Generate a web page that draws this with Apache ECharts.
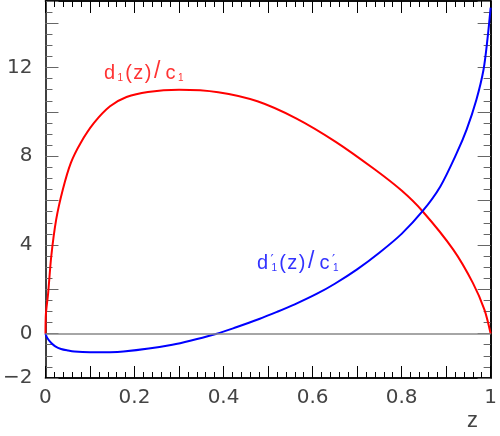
<!DOCTYPE html>
<html>
<head>
    <meta charset="utf-8">
    <title>d1(z)/c1</title>
    <script src="https://cdn.jsdelivr.net/npm/echarts@6/dist/echarts.min.js"></script>
</head>
<body style="margin:0">
    <div id="main" style="width: 500px;height:436px;"></div>
    <script type="text/javascript">
        // values
        let zRed = [0, 0.001, 0.006, 0.013, 0.024, 0.039, 0.057, 0.079, 0.109, 0.145, 0.182, 0.23, 0.30, 0.388, 0.476, 0.564, 0.652, 0.74, 0.80, 0.847, 0.916, 0.96, 0.986, 1.0]
        let dRed = [0, 0.9, 1.83, 3.49, 5.14, 6.5, 7.7, 8.6, 9.5, 10.25, 10.67, 10.9, 11.0, 10.89, 10.48, 9.7, 8.65, 7.4, 6.45, 5.52, 3.79, 2.29, 1.08, 0]
        let zBlue = [0, 0.004, 0.013, 0.022, 0.035, 0.05, 0.065, 0.1, 0.175, 0.285, 0.385, 0.43, 0.48, 0.52, 0.56, 0.61, 0.65, 0.70, 0.75, 0.80, 0.847, 0.887, 0.924, 0.946, 0.968, 0.984, 0.993, 1.0]
        let dBlue = [0, -0.2, -0.42, -0.57, -0.69, -0.76, -0.81, -0.84, -0.8, -0.5, 0, 0.3, 0.66, 0.98, 1.32, 1.8, 2.25, 2.9, 3.65, 4.5, 5.52, 6.64, 8.15, 9.2, 10.55, 11.9, 13.3, 14.7]
        let yLabels = [-2, 0, 4, 8, 12]

        let myChart = echarts.init(document.getElementById('main'));

        let font = 'DejaVu Sans'
        let txtFont = 'Liberation Sans'
        let toPairs = (xs, ys) => xs.map((x, i) => [x, ys[i]])

        // y axes: ticks every 2 and every 0.5, on both sides
        function yAx(pos, interval, len, opt) {
            return Object.assign({
                type: 'value', position: pos, min: -2, max: 15, interval: interval,
                axisLine: { show: true, onZero: false, lineStyle: { color: '#000', width: 1.5 } },
                axisTick: { show: true, inside: true, length: len, lineStyle: { color: '#666', width: 1 } },
                splitLine: { show: false },
                axisLabel: { show: false }
            }, opt || {})
        }
        // x axes: ticks every 0.1 and every 0.02, on both sides
        function xAx(pos, interval, len, labels) {
            return {
                type: 'value', position: pos, min: 0, max: 1, interval: interval,
                axisLine: { show: true, onZero: false, lineStyle: { color: '#000', width: 1.5 } },
                axisTick: { show: true, inside: true, length: len, lineStyle: { color: '#000', width: 1 } },
                splitLine: { show: false },
                axisLabel: {
                    show: labels, margin: 10, fontFamily: font, fontSize: 20, color: '#444',
                    formatter: v => {
                        let k = Math.round(v * 10)
                        if (k % 2 !== 0) return ''
                        if (k === 0) return '0'
                        if (k === 10) return '1'
                        return (k / 10).toFixed(1)
                    }
                }
            }
        }

        // left side ticks: outside ticks on an axis pushed into the plot
        let leftTicks = (interval, len) => yAx('left', interval, len, {
            offset: -len,
            axisLine: { show: false, onZero: false },
            axisTick: { show: true, inside: false, length: len, lineStyle: { color: '#666', width: 1 } }
        })

        let labelRich = col => ({
            t: { fontFamily: txtFont, fontSize: 20, lineHeight: 20, fill: col, verticalAlign: 'bottom', padding: [0, 1.5, 0, 0] },
            s: { fontFamily: txtFont, fontSize: 10, lineHeight: 10, fill: col, verticalAlign: 'bottom', padding: [0, 2, 0, 1] },
            sl: { fontFamily: txtFont, fontSize: 23, lineHeight: 20, fill: col, verticalAlign: 'bottom', padding: [0, 5, 0, 1] },
            p: { fontFamily: font, fontSize: 14, lineHeight: 14, fill: col, verticalAlign: 'top', width: 0, padding: [0, 0, 0, 1] }
        })

        let option = {
            animation: false,
            grid: { left: 44, right: 2, top: 1, bottom: 58 },
            xAxis: [xAx('bottom', 0.1, 12, true), xAx('top', 0.1, 12, false),
                    xAx('bottom', 0.02, 6, false), xAx('top', 0.02, 6, false)],
            yAxis: [
                yAx('left', 2, 13, {
                    axisTick: { show: false },
                    axisLabel: {
                        show: true, margin: 13, fontFamily: font, fontSize: 20, color: '#444',
                        formatter: v => yLabels.indexOf(v) >= 0 ? (v < 0 ? '\u2212' + Math.abs(v) : '' + v) : ''
                    }
                }),
                yAx('right', 2, 13),
                leftTicks(2, 13),
                yAx('right', 0.5, 7),
                leftTicks(0.5, 7)
            ],
            graphic: [
                {
                    type: 'text', left: 104, top: 60,
                    style: { text: '{t|d}{s|1}{t|(}{t|z}{t|)}{sl|/}{t|c}{s|1}', rich: labelRich('#ff3333') }
                },
                {
                    type: 'text', left: 257, top: 250,
                    style: { text: '{t|d}{p|\u2032}{s|1}{t|(}{t|z}{t|)}{sl|/}{t|c}{p|\u2032}{s|1}', rich: labelRich('#3333ff') }
                },
                {
                    type: 'text', left: 467, top: 410,
                    style: { text: 'z', fontFamily: txtFont, fontSize: 22, fill: '#444' }
                }
            ],
            series: [
                {
                    name: 'red', type: 'line', xAxisIndex: 0, yAxisIndex: 0,
                    data: toPairs(zRed, dRed), smooth: 0.3, symbol: 'none',
                    lineStyle: { color: '#ff0000', width: 2 },
                    markLine: {
                        silent: true, symbol: 'none', label: { show: false },
                        lineStyle: { color: '#888', width: 1.5, type: 'solid' },
                        data: [{ yAxis: 0 }]
                    }
                },
                {
                    name: 'blue', type: 'line', xAxisIndex: 0, yAxisIndex: 0,
                    data: toPairs(zBlue, dBlue), smooth: 0.3, symbol: 'none',
                    lineStyle: { color: '#0000ff', width: 2 }
                }
            ]
        };

        myChart.setOption(option);
    </script>
</body>
</html>
